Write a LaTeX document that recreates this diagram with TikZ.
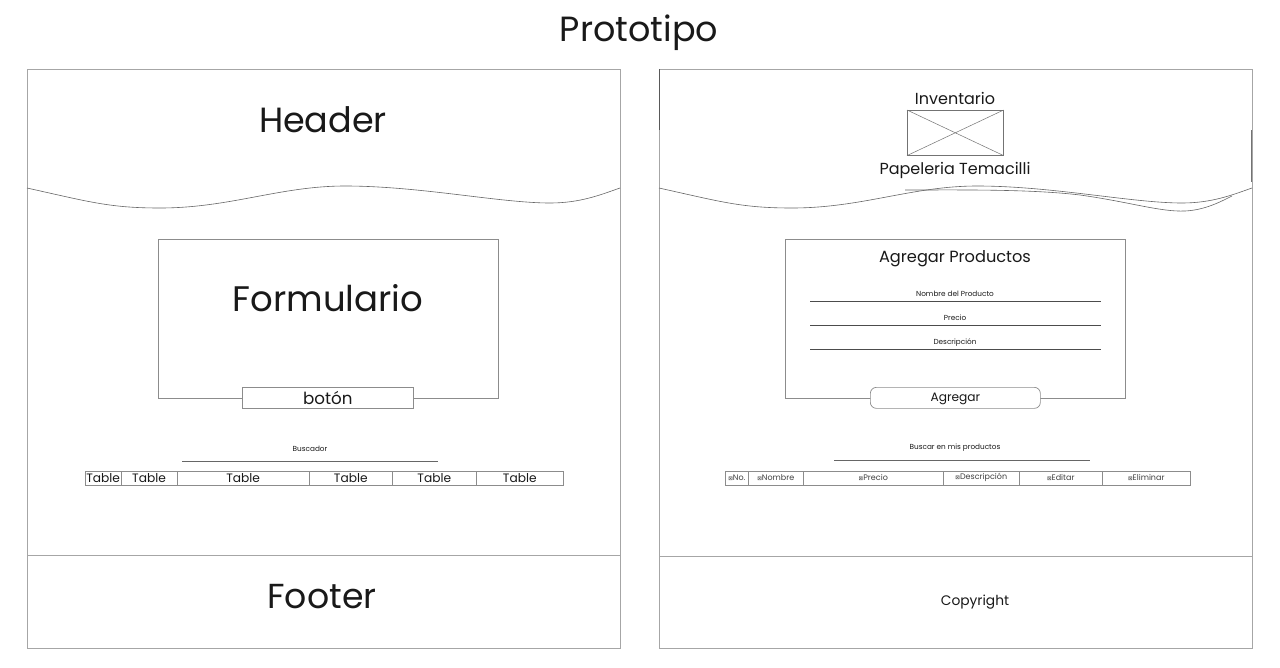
\documentclass[tikz,border=0pt]{standalone}
\usepackage{fontspec}
\setmainfont{Poppins}
\newfontfamily\dejavu{DejaVu Sans}
\begin{document}
\begin{tikzpicture}[x=1pt,y=-1pt,
  panel/.style={draw=black!35,line width=0.8pt},
  box/.style={draw=black!45,line width=0.7pt,fill=white},
  field/.style={draw=black!70,line width=0.9pt},
  cell/.style={draw=black!45,line width=0.6pt,inner sep=0pt},
  wave/.style={draw=black!60,line width=0.6pt},
  txt/.style={inner sep=0pt,text=black!90},
  small/.style={txt,font=\fontsize{7.3}{7.3}\selectfont}]
\useasboundingbox (0,0) rectangle (1280,667);
\fill[white] (0,0) rectangle (1280,667);
% title
\node[txt,font=\fontsize{35}{35}\selectfont] (title) at (639,33) {Prototipo};

% ===== left panel =====
\draw[panel] (27,69) rectangle (620,648);
\draw[panel] (27,555) -- (620,555);
\draw[wave] (27,188) .. controls (90,202) and (110,208) .. (160,208)
  .. controls (230,208) and (280,186) .. (345,186)
  .. controls (420,186) and (500,203) .. (550,203)
  .. controls (580,203) and (600,195) .. (620,188);
\node[txt,font=\fontsize{35}{35}\selectfont] (header) at (323,120) {Header};
\node[box,minimum width=340pt,minimum height=159pt,anchor=north west] (form) at (158,239) {};
\node[txt,font=\fontsize{35.5}{35.5}\selectfont] (formt) at (328,298) {Formulario};
\node[box,minimum width=171pt,minimum height=21pt,anchor=north west,inner sep=0pt] (boton) at (242,387) {};
\node[txt,font=\fontsize{16.7}{16.7}\selectfont] at ([yshift=-0.5pt]boton.center) {botón};
\node[small] (busc) at (310,449) {Buscador};
\coordinate (bl1) at (182,461);
\coordinate (bl2) at (438,461);
\draw[field,draw=black!60] (bl1) -- (bl2);
% left table
\foreach \a/\b/\n in {85/120.7/lt1,120.7/176.7/lt2,176.7/309/lt3,309/392/lt4,392/476/lt5,476/563/lt6}{
  \node[cell,anchor=north west,minimum width={\b-\a},minimum height=14.5pt] (\n) at (\a,470.5) {};
  \node[txt,font=\fontsize{12.2}{12.2}\selectfont] at (\n.center) {Table};
}
\node[txt,font=\fontsize{34.7}{34.7}\selectfont] (footer) at (322,597) {Footer};

% ===== right panel =====
\draw[panel] (659,69) rectangle (1252,648);
\draw[draw=black!65,line width=0.8pt] (659,69) -- (659,130);
\draw[draw=black!55,line width=0.8pt] (1251,130) -- (1251,182);
\draw[panel] (659,556) -- (1252,556);
\draw[wave] (659,188) .. controls (722,202) and (742,208) .. (792,208)
  .. controls (862,208) and (912,186) .. (977,186)
  .. controls (1052,186) and (1132,203) .. (1182,203)
  .. controls (1212,203) and (1232,195) .. (1252,188);
\draw[wave] (905,190) .. controls (960,190) and (1030,189) .. (1080,195)
  .. controls (1130,202) and (1160,212) .. (1185,211)
  .. controls (1205,210) and (1220,202) .. (1232,196);
\node[txt,font=\fontsize{16}{16}\selectfont] (inv) at (955,98) {Inventario};
\node[draw=black!55,line width=0.6pt,minimum width=96pt,minimum height=45pt,anchor=north west,inner sep=0pt] (logo) at (907,110) {};
\draw[draw=black!55,line width=0.5pt] (logo.north west) -- (logo.south east);
\draw[draw=black!55,line width=0.5pt] (logo.south west) -- (logo.north east);
\node[txt,font=\fontsize{16}{16}\selectfont] (pap) at (955,170) {Papeleria Temacilli};
\node[box,minimum width=340pt,minimum height=159pt,anchor=north west] (form2) at (785,239) {};
\node[txt,font=\fontsize{16.2}{16.2}\selectfont] (agp) at (955,259) {Agregar Productos};
\node[small] (f1) at (955,294) {Nombre del Producto};
\node[small] (f2) at (955,318) {Precio};
\node[small] (f3) at (955,343) {Descripción};
\coordinate (a1) at (810,301); \coordinate (b1) at (1101,301);
\coordinate (a2) at (810,325); \coordinate (b2) at (1101,325);
\coordinate (a3) at (810,349); \coordinate (b3) at (1101,349);
\draw[field] (a1) -- (b1);
\draw[field] (a2) -- (b2);
\draw[field] (a3) -- (b3);
\node[box,rounded corners=6pt,minimum width=170pt,minimum height=21pt,anchor=north west,inner sep=0pt] (agr) at (870,387) {};
\node[txt,font=\fontsize{12.2}{12.2}\selectfont] at ([yshift=-1.5pt]agr.center) {Agregar};
\node[small] (busc2) at (955,448) {Buscar en mis productos};
\coordinate (c1) at (834,460);
\coordinate (c2) at (1090,460);
\draw[field,draw=black!60] (c1) -- (c2);
% right table
\foreach \a/\b/\n/\t in {725/748/rt1/No.,748/803/rt2/Nombre,803/943/rt3/Precio,943/1019/rt4/Descripción,1019/1102/rt5/Editar,1102/1190/rt6/Eliminar}{
  \node[cell,anchor=north west,minimum width={\b-\a},minimum height=14pt] (\n) at (\a,470.5) {};
  \node[txt,font=\fontsize{8}{8}\selectfont,text=black!75] at (\n.center) {{\dejavu\fontsize{5.5}{5.5}\selectfont ⊠}\t};
}
\node[txt,font=\fontsize{13.8}{13.8}\selectfont] (copy) at (975,602) {Copyright};
\end{tikzpicture}
\end{document}
